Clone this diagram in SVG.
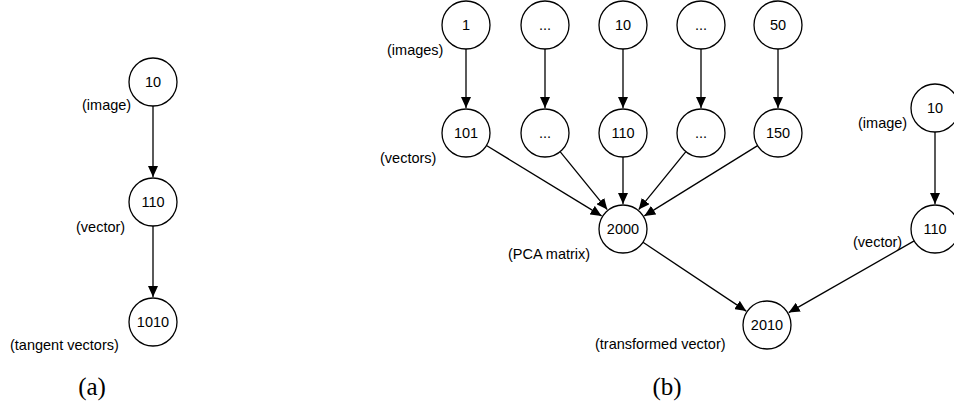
<svg xmlns="http://www.w3.org/2000/svg" width="954" height="402" viewBox="0 0 954 402">
<style>
  .n circle { fill: #fff; stroke: #000; stroke-width: 1.3; }
  .n text, .lbl { font-family: "Liberation Sans", Arial, sans-serif; font-size: 14.5px; fill: #000; }
  .n text { text-anchor: middle; dominant-baseline: central; }
  .cap { font-family: "Liberation Serif", "Times New Roman", serif; font-size: 25px; text-anchor: middle; fill: #000; }
  #edges line { stroke: #000; stroke-width: 1.3; marker-end: url(#ah); }
</style>
<defs>
  <marker id="ah" viewBox="0 0 11 10" refX="11" refY="5" markerWidth="11" markerHeight="10" markerUnits="userSpaceOnUse" orient="auto">
    <path d="M0,0 L11,5 L0,10 Z" fill="#000"/>
  </marker>
</defs>
<rect width="954" height="402" fill="#fff"/>
<g id="edges">
  <line x1="153" y1="106" x2="153" y2="177"/>
  <line x1="153" y1="226" x2="153" y2="297"/>
  <line x1="466" y1="49" x2="466" y2="108"/>
  <line x1="545" y1="49" x2="545" y2="108"/>
  <line x1="623" y1="49" x2="623" y2="108"/>
  <line x1="701" y1="49" x2="701" y2="108"/>
  <line x1="778" y1="49" x2="778" y2="108"/>
  <line x1="486.5" y1="145.5" x2="601.6" y2="215.9"/>
  <line x1="560.1" y1="151.6" x2="607.3" y2="209.6"/>
  <line x1="623" y1="157" x2="623" y2="204"/>
  <line x1="685.9" y1="151.6" x2="638.7" y2="209.6"/>
  <line x1="757.6" y1="145.6" x2="644.3" y2="215.9"/>
  <line x1="643" y1="242.3" x2="746.2" y2="311.1"/>
  <line x1="935" y1="132" x2="935" y2="204"/>
  <line x1="914.2" y1="240.9" x2="788.7" y2="312.6"/>
</g>
<g id="a_img" class="n"><circle cx="153" cy="82" r="24"/><text x="153" y="82">10</text></g>
<g id="a_vec" class="n"><circle cx="153" cy="202" r="24"/><text x="153" y="202">110</text></g>
<g id="a_tan" class="n"><circle cx="153" cy="322" r="24"/><text x="153" y="322">1010</text></g>
<g id="b_i1" class="n"><circle cx="466" cy="25" r="24"/><text x="466" y="25">1</text></g>
<g id="b_i2" class="n"><circle cx="545" cy="25" r="24"/><text x="545" y="25">...</text></g>
<g id="b_i3" class="n"><circle cx="623" cy="25" r="24"/><text x="623" y="25">10</text></g>
<g id="b_i4" class="n"><circle cx="701" cy="25" r="24"/><text x="701" y="25">...</text></g>
<g id="b_i5" class="n"><circle cx="778" cy="25" r="24"/><text x="778" y="25">50</text></g>
<g id="b_v1" class="n"><circle cx="466" cy="133" r="24"/><text x="466" y="133">101</text></g>
<g id="b_v2" class="n"><circle cx="545" cy="133" r="24"/><text x="545" y="133">...</text></g>
<g id="b_v3" class="n"><circle cx="623" cy="133" r="24"/><text x="623" y="133">110</text></g>
<g id="b_v4" class="n"><circle cx="701" cy="133" r="24"/><text x="701" y="133">...</text></g>
<g id="b_v5" class="n"><circle cx="778" cy="133" r="24"/><text x="778" y="133">150</text></g>
<g id="b_pca" class="n"><circle cx="623" cy="229" r="24"/><text x="623" y="229">2000</text></g>
<g id="b_tr" class="n"><circle cx="767" cy="325" r="24"/><text x="767" y="325">2010</text></g>
<g id="b_img" class="n"><circle cx="935" cy="108" r="24"/><text x="935" y="108">10</text></g>
<g id="b_vec" class="n"><circle cx="935" cy="229" r="24"/><text x="935" y="229">110</text></g>
<g id="labels">
  <text class="lbl" x="82" y="110">(image)</text>
  <text class="lbl" x="76" y="232">(vector)</text>
  <text class="lbl" x="10" y="350">(tangent vectors)</text>
  <text class="lbl" x="387" y="55">(images)</text>
  <text class="lbl" x="380" y="163">(vectors)</text>
  <text class="lbl" x="508" y="259">(PCA matrix)</text>
  <text class="lbl" x="595" y="349">(transformed vector)</text>
  <text class="lbl" x="858" y="128">(image)</text>
  <text class="lbl" x="853" y="247">(vector)</text>
  <text class="cap" x="92" y="395">(a)</text>
  <text class="cap" x="667" y="395">(b)</text>
</g>
</svg>
